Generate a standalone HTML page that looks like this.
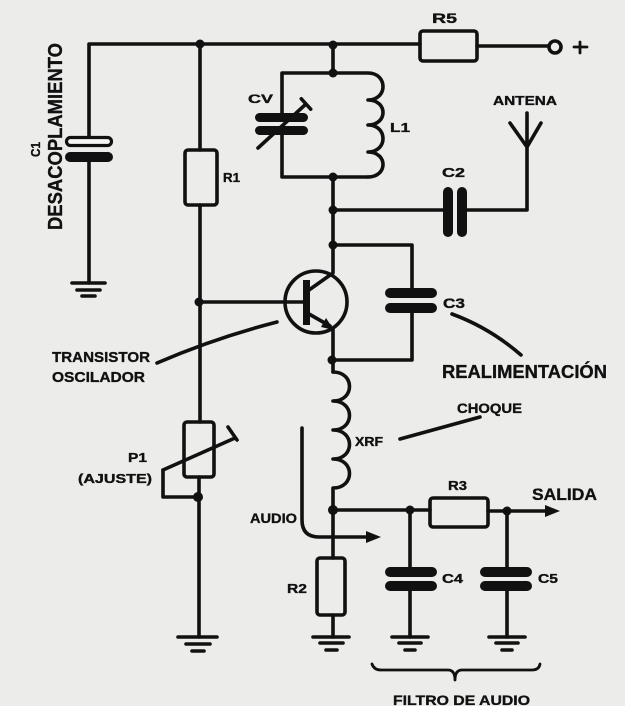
<!DOCTYPE html>
<html><head><meta charset="utf-8"><style>
html,body{margin:0;padding:0;background:#ececea;}
svg{display:block;}
text{font-family:"Liberation Sans",sans-serif;font-weight:bold;fill:#111;stroke:#111;stroke-width:0.35;}
</style></head><body>
<svg width="625" height="706" viewBox="0 0 625 706" xmlns="http://www.w3.org/2000/svg">
<rect width="625" height="706" fill="#ececea"/>
<g stroke="#111" stroke-width="3.6" fill="none" stroke-linecap="round" stroke-linejoin="round">
<!-- top rail -->
<path d="M89,137 V44 H420"/>
<path d="M477,46 H549"/>
<circle cx="555" cy="47" r="6"/>
<path d="M574,47 H587 M580,42 V53" stroke-width="2.8"/>
<rect x="420" y="31" width="57" height="30" rx="3"/>
<!-- C1 -->
<path d="M89,162 V283"/>
<path d="M72,283 H105 M77,290 H100 M82,296 H95"/>
<!-- R1 / P1 branch -->
<path d="M200,44 V150 M200,205 V422 M199,477 V637"/>
<rect x="185" y="150" width="32" height="55" rx="3"/>
<rect x="184" y="422" width="30" height="55" rx="3"/>
<path d="M163,470 L235,438 M228,427 L237,440"/>
<path d="M163,470 V497 H198"/>
<path d="M178,637 H217 M186,644 H210 M192,651 H204"/>
<!-- tank -->
<path d="M333,45 V73"/>
<path d="M333,73 H282 V117 M282,130 V177 H368"/>
<path d="M333,73 H368 C388,73 388,100 368,100 C388,100 388,125 368,125 C388,125 388,152 368,152 C388,152 388,177 368,177"/>
<path d="M258,148 L306,104 M301.3,98.8 L310.7,109.2"/>
<!-- collector chain -->
<path d="M333,177 V273 L309,290"/>
<path d="M333,210 H443 M467,210 H527 V113 M527,147 L510,123 M527,147 L541,123"/>
<!-- transistor -->
<circle cx="316" cy="302" r="31"/>
<path d="M199,302 H303"/>
<path d="M309,314 L330,326 M333,328 V372"/>
<!-- C3 loop -->
<path d="M333,245 H412 V293 M412,307 V360 H333"/>
<!-- XRF -->
<path d="M333,372 C355,372 355,401 333,401 C355,401 355,430 333,430 C355,430 355,459 333,459 C355,459 355,488 333,488 V558 M333,615 V637"/>
<rect x="317" y="558" width="28" height="57" rx="3"/>
<path d="M313,637 H349 M320,643 H343 M326,650 H337"/>
<!-- output -->
<path d="M333,510 H430 M488,511 H550"/>
<rect x="430" y="498" width="58" height="29" rx="3"/>
<path d="M410,510 V567 M410,590 V637 M507,511 V567 M507,590 V637"/>
<path d="M392,637 H428 M399,643 H421 M405,650 H415"/>
<path d="M489,637 H525 M496,643 H518 M502,650 H512"/>
<!-- audio arrow -->
<path d="M302,428 V520 Q302,537 319,537 H370"/>
<!-- pointers -->
<path d="M157,363 Q215,338 277,322"/>
<path d="M452,314 Q490,328 521,355"/>
<path d="M400,439 L480,417"/>
<!-- brace -->
<path d="M372,664 Q374,670 381,670 H448 Q455,670 455,680 Q455,670 462,670 H532 Q539,670 540,664" stroke-width="2.8"/>
</g>
<!-- filled parts -->
<g fill="#111">
<rect x="303" y="280" width="7" height="45"/>
<polygon points="321,327 334,330 326,318"/>
<polygon points="366,531 381,537 366,543"/>
<polygon points="545,505 560,511 545,517"/>
<!-- capacitor plates -->
<rect x="255" y="113" width="53" height="9" rx="4.5"/>
<rect x="255" y="126" width="53" height="9" rx="4.5"/>
<rect x="65" y="152" width="48" height="10" rx="5"/>
<rect x="443" y="187" width="10" height="50" rx="5"/>
<rect x="457" y="187" width="10" height="50" rx="5"/>
<rect x="385" y="288" width="52" height="10" rx="5"/>
<rect x="385" y="303" width="52" height="10" rx="5"/>
<rect x="385" y="567" width="52" height="10" rx="5"/>
<rect x="385" y="581" width="52" height="10" rx="5"/>
<rect x="480" y="567" width="52" height="10" rx="5"/>
<rect x="480" y="581" width="52" height="10" rx="5"/>
<!-- junctions -->
<circle cx="200" cy="44" r="4.5"/>
<circle cx="333" cy="45" r="4.5"/>
<circle cx="333" cy="73" r="4.5"/>
<circle cx="333" cy="177" r="4.5"/>
<circle cx="333" cy="210" r="4.5"/>
<circle cx="333" cy="245" r="4.5"/>
<circle cx="199" cy="302" r="4.5"/>
<circle cx="332" cy="360" r="4.5"/>
<circle cx="198" cy="497" r="5"/>
<circle cx="333" cy="510" r="5"/>
<circle cx="410" cy="510" r="4.5"/>
<circle cx="507" cy="511" r="4.5"/>
</g>
<rect x="66.5" y="137.5" width="45" height="8" rx="4" fill="#f6f6f4" stroke="#111" stroke-width="3.2"/>
<!-- labels -->
<text x="432" y="23" font-size="14" textLength="25" lengthAdjust="spacingAndGlyphs">R5</text>
<text x="248" y="103" font-size="12" textLength="25" lengthAdjust="spacingAndGlyphs">CV</text>
<text x="390" y="132" font-size="13" textLength="20" lengthAdjust="spacingAndGlyphs">L1</text>
<text x="493" y="105" font-size="13" textLength="64" lengthAdjust="spacingAndGlyphs">ANTENA</text>
<text x="442" y="177" font-size="13" textLength="23" lengthAdjust="spacingAndGlyphs">C2</text>
<text x="443" y="308" font-size="14" textLength="22" lengthAdjust="spacingAndGlyphs">C3</text>
<text x="223" y="182" font-size="13" textLength="17" lengthAdjust="spacingAndGlyphs">R1</text>
<text transform="translate(40,157) rotate(-90)" font-size="13" textLength="15" lengthAdjust="spacingAndGlyphs">C1</text>
<text transform="translate(62,230) rotate(-90)" font-size="20" textLength="187" lengthAdjust="spacingAndGlyphs">DESACOPLAMIENTO</text>
<text x="52" y="362" font-size="15" textLength="98" lengthAdjust="spacingAndGlyphs">TRANSISTOR</text>
<text x="52" y="382" font-size="15" textLength="93" lengthAdjust="spacingAndGlyphs">OSCILADOR</text>
<text x="442" y="378" font-size="18" textLength="165" lengthAdjust="spacingAndGlyphs">REALIMENTACIÓN</text>
<text x="457" y="413" font-size="14" textLength="65" lengthAdjust="spacingAndGlyphs">CHOQUE</text>
<text x="355" y="446" font-size="13" textLength="28" lengthAdjust="spacingAndGlyphs">XRF</text>
<text x="128" y="462" font-size="13" textLength="19" lengthAdjust="spacingAndGlyphs">P1</text>
<text x="78" y="483" font-size="13" textLength="74" lengthAdjust="spacingAndGlyphs">(AJUSTE)</text>
<text x="250" y="523" font-size="14" textLength="47" lengthAdjust="spacingAndGlyphs">AUDIO</text>
<text x="448" y="490" font-size="13" textLength="19" lengthAdjust="spacingAndGlyphs">R3</text>
<text x="532" y="500" font-size="17" textLength="65" lengthAdjust="spacingAndGlyphs">SALIDA</text>
<text x="287" y="593" font-size="13" textLength="20" lengthAdjust="spacingAndGlyphs">R2</text>
<text x="442" y="583" font-size="13" textLength="21" lengthAdjust="spacingAndGlyphs">C4</text>
<text x="538" y="583" font-size="13" textLength="20" lengthAdjust="spacingAndGlyphs">C5</text>
<text x="393" y="705" font-size="14" textLength="137" lengthAdjust="spacingAndGlyphs">FILTRO DE AUDIO</text>
</svg>
</body></html>
